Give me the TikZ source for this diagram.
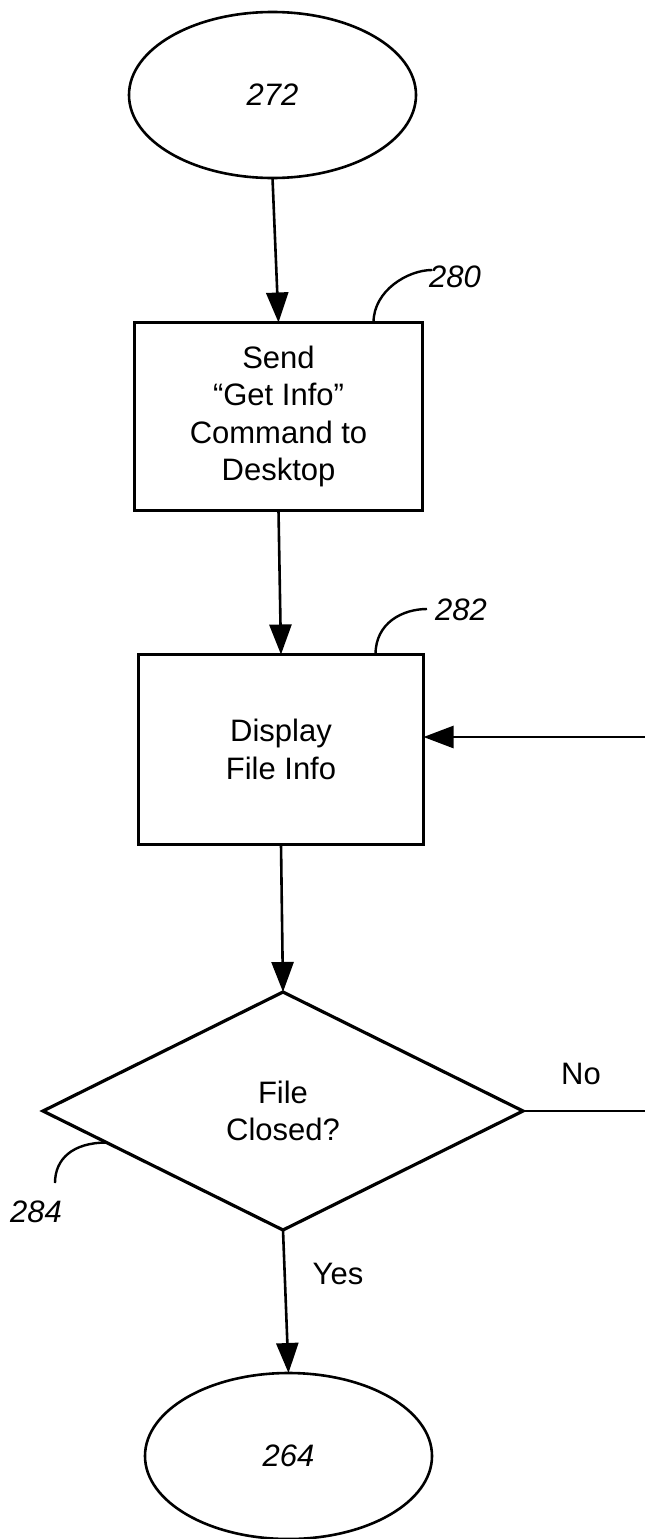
\documentclass[tikz,border=0pt]{standalone}
\usepackage{fontspec}
\setmainfont{Liberation Sans}
\usetikzlibrary{shapes.geometric,arrows.meta,calc}
\begin{document}
\begin{tikzpicture}[x=1pt,y=-1pt,
  every node/.style={font=\fontsize{31}{37.5}\selectfont, inner sep=0pt, outer sep=0pt},
  term/.style={draw, ellipse, line width=2.6pt, minimum width=287pt, minimum height=166pt, font=\fontsize{31}{37.5}\selectfont\itshape},
  proc/.style={draw, rectangle, line width=3.2pt, align=center},
  dec/.style={draw, diamond, line width=3.2pt, align=center, minimum width=480pt, minimum height=238pt},
  flow/.style={line width=2.6pt, -{Triangle[length=30pt,width=22pt]}},
  plain/.style={line width=2.6pt},
  lead/.style={line width=2.4pt},
  ref/.style={font=\fontsize{31}{37.5}\selectfont\itshape},
]
\fill[white] (0,0) rectangle (645,1539);
\useasboundingbox (0,0) rectangle (645,1539);

% nodes
\node[term] (e272) at (272.5,95) {272};
\node[proc, minimum width=288pt, minimum height=188pt] (b280) at (278.5,416.5) {Send\\“Get Info”\\Command to\\Desktop};
\node[proc, minimum width=285pt, minimum height=190pt] (b282) at (281,749.5) {Display\\File Info};
\node[dec] (d284) at (283,1111) {File\\Closed?};
\node[term] (e264) at (288.5,1456) {264};

% reference labels
\node[ref] (l280) at (455,277) {280};
\node[ref] (l282) at (461,610) {282};
\node[ref] (l284) at (36,1212) {284};
\node (no) at (581,1074) {No};
\node (yes) at (338,1274) {Yes};

% leader free ends
\coordinate (c280) at (432,270);
\coordinate (c282) at (427,609);
\coordinate (c284) at (55,1183);

% leaders
\draw[lead] ([xshift=-49pt]b280.north east) .. controls +(0,-32) and +(-24,0) .. (c280);
\draw[lead] ([xshift=-48pt]b282.north east) .. controls +(0,-32) and +(-24,0) .. (c282);
\draw[lead] ($(d284.west)!0.265!(d284.south)$) .. controls +(-34,0) and +(0,-24) .. (c284);

% connectors
\draw[flow] (e272.south) -- (b280.north);
\draw[flow] (b280.south) -- (b282.north);
\draw[flow] (b282.south) -- (d284.north);
\draw[flow] (d284.south) -- (e264.north);
\coordinate (fromNo) at (645,737);
\draw[flow] (fromNo) -- (fromNo -| b282.east);
\coordinate (toNo) at (645,1111);
\draw[plain] (d284.east) -- (toNo);
\end{tikzpicture}
\end{document}
